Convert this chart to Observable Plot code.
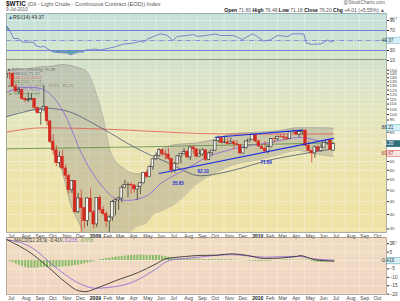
<!DOCTYPE html>
<html><head><meta charset="utf-8">
<script src="https://cdn.jsdelivr.net/npm/d3@7"></script>
<script src="https://cdn.jsdelivr.net/npm/@observablehq/plot@0.6"></script>
<style>
html,body{margin:0;padding:0;background:#fff;}
#wrap{position:relative;width:400px;height:301px;overflow:hidden;font-family:"Liberation Sans",Arial,sans-serif;color:#333;}
.abs{position:absolute;white-space:nowrap;}
#wrap svg{overflow:visible;display:block;}
.leg div{height:4px;line-height:4px;font-size:4.3px;}
</style></head><body><div id="wrap">
<div class="abs" style="left:6px;top:13px;width:380px;height:46px;background:linear-gradient(#c4e1dc,#d7e6cb);"></div>
<div class="abs" style="left:6px;top:59px;width:380px;height:173px;background:linear-gradient(#d3e2cd 0%,#e2e5bd 30%,#ede4ad 65%,#f1e2a5 100%);"></div>
<div class="abs" style="left:6px;top:237px;width:380px;height:57px;background:linear-gradient(#f0ddc3,#f1d5c1);"></div>
<div class="abs" style="left:6px;top:0px;font-size:5.6px;color:#555;"><b style="font-size:6.4px;color:#111">$WTIC</b> (Oil - Light Crude - Continuous Contract (EOD)) Index</div>
<div class="abs" style="left:6px;top:7px;font-size:4.6px;color:#555;">9-Jul-2010</div>
<div class="abs" style="right:15px;top:0px;font-size:4.8px;color:#666;">@StockCharts.com</div>
<div class="abs" style="right:15px;top:6.5px;font-size:5px;color:#555;"><b style="color:#111">Open</b> 71.80 <b style="color:#111">High</b> 76.48 <b style="color:#111">Low</b> 71.18 <b style="color:#111">Close</b> 76.20 <b style="color:#111">Chg</b> +4.01 (+5.55%) ▲</div>
<div class="abs" style="left:8px;top:13.5px;font-size:5px;color:#333;"><span style="color:#369">▲</span>RSI(14) 49.37</div>
<div class="abs leg" style="left:8px;top:68px;color:#444;">
<div><span style="color:#222">■</span> $WTIC (Weekly) 76.20</div>
<div style="color:#4d5875">— MA(50) 75.12</div>
<div style="color:#e2574c">— MA(100) 83.67</div>
<div style="color:#5b8c3c">— MA(200) 77.11</div>
<div style="color:#777">■ BB(20,2.0) 68.05 - 76.63 - 85.21</div>
<div style="color:#8b5fd8">— MA(20) 76.63</div>
<div style="color:#3a8a3a">▲ Volume undef</div>
</div>
<div class="abs" style="left:8px;top:237.5px;font-size:4.8px;color:#333;">— MACD(12,26,9) -0.419, <span style="color:#8b5fd8">0.238</span>, <span style="color:#6aa84f">-0.656</span></div>
<div id="p1" class="abs" style="left:0;top:13px;"></div>
<div id="p2" class="abs" style="left:0;top:59px;"></div>
<div id="p3" class="abs" style="left:0;top:237px;"></div>
</div>
<script>
const weeks = ["2008-06-30","2008-07-07","2008-07-14","2008-07-21","2008-07-28","2008-08-04","2008-08-11","2008-08-18","2008-08-25","2008-09-01","2008-09-08","2008-09-15","2008-09-22","2008-09-29","2008-10-06","2008-10-13","2008-10-20","2008-10-27","2008-11-03","2008-11-10","2008-11-17","2008-11-24","2008-12-01","2008-12-08","2008-12-15","2008-12-22","2008-12-29",
"2009-01-05","2009-01-12","2009-01-19","2009-01-26","2009-02-02","2009-02-09","2009-02-16","2009-02-23","2009-03-02","2009-03-09","2009-03-16","2009-03-23","2009-03-30","2009-04-06","2009-04-13","2009-04-20","2009-04-27","2009-05-04","2009-05-11","2009-05-18","2009-05-25","2009-06-01","2009-06-08","2009-06-15","2009-06-22","2009-06-29","2009-07-06","2009-07-13","2009-07-20","2009-07-27","2009-08-03","2009-08-10","2009-08-17","2009-08-24","2009-08-31","2009-09-07","2009-09-14","2009-09-21","2009-09-28","2009-10-05","2009-10-12","2009-10-19","2009-10-26","2009-11-02","2009-11-09","2009-11-16","2009-11-23","2009-11-30","2009-12-07","2009-12-14","2009-12-21","2009-12-28",
"2010-01-04","2010-01-11","2010-01-18","2010-01-25","2010-02-01","2010-02-08","2010-02-15","2010-02-22","2010-03-01","2010-03-08","2010-03-15","2010-03-22","2010-03-29","2010-04-05","2010-04-12","2010-04-19","2010-04-26","2010-05-03","2010-05-10","2010-05-17","2010-05-24","2010-05-31","2010-06-07","2010-06-14","2010-06-21","2010-06-28","2010-07-05"];
const openP = [140.0,145.3,145.1,128.9,123.3,125.1,115.2,113.8,114.6,115.5,106.2,101.2,104.6,106.9,93.9,77.7,71.9,64.2,67.8,61.0,57.0,49.9,54.4,40.8,46.3,42.4,37.7,
46.3,40.8,36.5,46.5,41.7,40.2,37.5,38.9,44.8,45.5,46.3,51.1,52.4,52.5,52.2,50.3,51.6,53.2,58.6,56.3,61.7,66.3,68.4,72.0,69.6,69.2,66.7,59.9,63.6,68.1,69.5,70.9,67.5,73.9,72.7,68.0,69.3,72.0,66.0,70.0,71.8,78.5,80.5,77.0,77.4,76.4,77.5,76.1,75.5,69.9,73.4,78.1,
79.4,82.8,78.0,74.5,72.9,71.2,74.1,79.8,79.7,81.5,81.2,80.7,80.0,84.9,84.9,83.2,85.1,86.2,75.1,71.6,70.0,74.0,71.5,73.8,77.2,78.9,71.8];
const highP = [145.9,147.3,146.7,132.0,128.0,125.5,117.0,122.0,121.0,116.0,107.0,104.0,130.0,107.0,94.0,83.0,75.0,71.0,72.0,63.0,58.0,54.5,54.5,48.5,50.0,42.5,46.6,
50.5,41.5,46.5,47.5,43.0,41.0,39.5,45.5,46.0,47.0,52.0,54.7,53.5,53.5,52.7,51.5,53.7,58.7,60.0,62.3,66.5,70.3,73.2,72.9,72.0,73.4,66.8,64.5,68.5,69.5,73.2,72.0,74.7,75.0,72.7,72.5,73.0,72.5,71.0,72.0,78.8,82.0,81.0,81.2,80.5,80.5,79.0,79.0,75.9,73.5,78.3,79.6,
83.5,82.9,79.5,75.5,78.0,75.3,80.0,80.5,82.0,83.2,83.0,82.0,85.0,87.1,86.5,85.5,86.5,87.2,77.8,72.0,75.0,75.5,76.0,77.5,79.5,79.0,76.5];
const lowP = [139.1,138.0,128.2,122.9,120.4,113.9,111.3,111.5,113.5,105.2,100.1,90.5,103.0,90.0,76.6,68.6,62.0,61.3,59.9,55.0,48.2,48.5,40.5,40.3,33.9,35.1,35.8,
40.5,35.0,35.5,40.5,39.5,35.5,33.6,37.5,39.5,41.5,44.5,50.5,46.5,48.2,48.6,45.5,48.0,53.0,55.5,56.1,60.0,65.5,67.5,68.0,66.0,65.5,58.3,58.5,63.0,63.5,69.0,66.5,65.5,69.5,67.0,67.5,68.0,65.0,65.5,68.5,71.5,77.0,76.5,76.5,75.5,76.0,72.4,75.0,69.5,69.4,72.8,77.5,
79.2,77.5,74.3,72.4,70.8,69.5,73.8,77.0,78.5,80.8,78.7,78.9,79.5,84.2,82.5,80.8,82.5,74.3,71.5,64.2,67.0,71.0,70.8,73.5,75.5,71.8,71.2];
const closeP = [145.3,145.1,128.9,123.3,125.1,115.2,113.8,114.6,115.5,106.2,101.2,104.6,106.9,93.9,77.7,71.9,64.2,67.8,61.0,57.0,49.9,54.4,40.8,46.3,42.4,37.7,46.3,
40.8,36.5,46.5,41.7,40.2,37.5,38.9,44.8,45.5,46.3,51.1,52.4,52.5,52.2,50.3,51.6,53.2,58.6,56.3,61.7,66.3,68.4,72.0,69.6,69.2,66.7,59.9,63.6,68.1,69.5,70.9,67.5,73.9,72.7,68.0,69.3,72.0,66.0,70.0,71.8,78.5,80.5,77.0,77.4,76.4,77.5,76.1,75.5,69.9,73.4,78.1,79.4,
82.8,78.0,74.5,72.9,71.2,74.1,79.8,79.7,81.5,81.2,80.7,80.0,84.9,84.9,83.2,85.1,86.2,75.1,71.6,70.0,74.0,71.5,73.8,77.2,78.9,72.2,76.2];
const macdHist = [0.3,-0.5,-1.2,-2,-2.8,-3.5,-4,-4.5,-4.6,-4.5,-4.3,-4,-4,-4.1,-4,-3.9,-4,-4,-3.8,-3.6,-3.5,-3.2,-3,-2.7,-2.3,-2,-1.5,-1,-0.5,0,0.5,0.8,1.2,1.5,1.8,2.1,2.3,2.5,2.7,2.9,3,3.1,3.2,3.2,3.1,3,3,3,3.1,3,2.6,2.3,2,1.6,1.2,1.1,1,1,0.9,0.9,0.8,0.8,0.7,0.6,0.5,0.6,0.6,0.5,0.6,0.6,0.5,0.4,0.5,0.3,0.2,0.1,-0.1,-0.2,-0.3,-0.4,-0.5,-0.6,-0.6,-0.5,-0.5,-0.3,-0.1,0.1,0.2,0.3,0.3,0.3,0.3,0.2,0.2,0.3,0.4,0.3,-0.5,-0.9,-1.1,-1.1,-1,-0.8,-0.7,-0.66];

const rsiDates = ["2008-06-30","2008-07-09","2008-07-16","2008-07-27","2008-08-05","2008-08-30","2008-09-03","2008-09-14","2008-09-21","2008-10-07","2008-10-14","2008-11-14","2008-11-21","2008-12-09","2008-12-20","2008-12-25","2009-01-05","2009-01-12","2009-01-27","2009-02-26","2009-03-20","2009-04-11","2009-04-27","2009-05-04","2009-05-13","2009-05-26","2009-06-11","2009-06-27","2009-07-08","2009-07-19","2009-08-11","2009-08-24","2009-09-02","2009-09-20","2009-10-13","2009-10-24","2009-11-22","2009-12-12","2010-01-04","2010-01-11","2010-01-29","2010-02-13","2010-03-01","2010-03-24","2010-04-04","2010-04-29","2010-05-05","2010-05-19","2010-05-26","2010-06-06","2010-06-22","2010-06-28","2010-07-05"];
const rsiVals = [80,66.7,54,54,46.7,46.7,40,36.7,38.7,30,26.7,24.7,21.3,26.7,26.7,31.3,31.3,33,31,36.7,43,44.7,48.7,46.7,53,58,63.3,60,50,58,60,62,58,60,63,60,60,52,63.3,60,48.7,51.3,60,58,63.3,63.3,44.7,42,43,43,51.3,46.7,49.37];
const rsiTicks = [10,30,70,90];

const macdDates = ["2008-06-30","2008-08-26","2008-10-03","2008-11-10","2008-12-09","2008-12-25","2009-01-16","2009-03-02","2009-04-23","2009-06-01","2009-06-23","2009-08-06","2009-09-04","2009-10-18","2009-11-16","2009-12-24","2010-01-31","2010-04-13","2010-04-20","2010-05-22","2010-07-05"];
const macdVals = [12.5,4,-4.2,-13,-18,-18.5,-16.7,-12,-7,-2,1,2.4,3,3.2,4,3,1.2,2.4,3,0.6,-0.419];
const signalDates = ["2008-06-30","2008-08-26","2008-10-18","2008-12-14","2009-01-16","2009-02-14","2009-04-08","2009-06-01","2009-06-30","2009-08-06","2009-09-04","2009-11-16","2010-01-31","2010-04-13","2010-05-22","2010-07-05"];
const signalVals = [12.5,7.7,-4,-14,-16.5,-16,-13,-5,0,1.2,2,3.5,2,2.5,1,0.238];
const macdTicks = [-20,-15,-10,-5,5,10];

const ma20Dates = ["2008-06-30","2008-08-04","2008-09-01","2008-09-30","2008-11-03","2008-12-20","2009-02-03","2009-03-06","2009-03-29","2009-05-13","2009-06-11","2009-07-10","2009-08-11","2009-09-09","2009-11-22","2010-02-07","2010-04-22","2010-06-22","2010-07-05"];
const ma20Vals = [122,128,128,123,104,67.5,51,46,45.5,47.6,53,57,61,65.6,73,77,81,77,76.63];
const ma50Dates = ["2008-06-30","2008-08-15","2008-09-20","2008-11-05","2009-01-31","2009-04-14","2009-06-30","2009-09-09","2009-11-22","2010-02-07","2010-04-22","2010-07-05"];
const ma50Vals = [98,103,106,104,88,74,64,57,60,65.6,69.5,73];
const ma100Dates = ["2008-06-30","2008-09-20","2009-02-01","2009-06-01","2009-09-09","2010-01-01","2010-07-05"];
const ma100Vals = [85,88.5,87.5,85.5,84,83.5,83.67];
const ma200Dates = ["2008-06-30","2009-06-01","2010-07-05"];
const ma200Vals = [73,74.5,77.11];
const bbDates = ["2008-06-30","2008-08-15","2008-09-20","2008-10-15","2008-11-01","2008-11-25","2008-12-10","2008-12-28","2009-01-15","2009-02-01","2009-02-20","2009-03-20","2009-04-20","2009-05-10","2009-05-25","2009-06-15","2009-07-20","2009-09-01","2009-10-15","2009-11-20","2010-01-15","2010-03-01","2010-04-15","2010-05-20","2010-07-05"];
const bbUpper = [150,152,155,156,158,156,153,148,125,99,70,61,58,58.5,66,73,76,77,80,84,85,86,88.5,88.5,88.2];
const bbLower = [98,104,104,72,60,42,37,32,29,28,29,32,36,37,40,41.5,45,53,59,63,66,69,72,70,68];

const trendDatesA = ["2009-10-12","2010-04-26"], trendValsA = [81.2,86.6];
const trendDatesB = ["2009-06-08","2010-07-05"], trendValsB = [58.2,80.3];
const trendLabelDates = ["2009-07-08","2009-09-02","2010-01-22"];
const trendLabelVals = [55.65,62.1,67.4];
const trendLabelText = ["55.65","62.10","71.69"];

const priceGrid = [35,40,45,50,55,60,65,70,75,80,85,90,95,100,105,110,115,120,125,130,135,140,145,150];
const priceTickLabels = [35,40,45,50,55,60,65,85,95,100,105,110,115,120,125,130,135,140,145,150];
const monthDates = ["2008-07-01","2008-08-01","2008-09-01","2008-10-01","2008-11-01","2008-12-01","2009-02-01","2009-03-01","2009-04-01","2009-05-01","2009-06-01","2009-07-01","2009-08-01","2009-09-01","2009-10-01","2009-11-01","2009-12-01","2010-02-01","2010-03-01","2010-04-01","2010-05-01","2010-06-01","2010-07-01","2010-08-01","2010-09-01","2010-10-01"];
const monthNames = ["Jul","Aug","Sep","Oct","Nov","Dec","Feb","Mar","Apr","May","Jun","Jul","Aug","Sep","Oct","Nov","Dec","Feb","Mar","Apr","May","Jun","Jul","Aug","Sep","Oct"];
const yearDates = ["2009-01-01","2010-01-01"];
const yearNames = ["2009","2010"];

const priceBoxVals = [88.21,76.20,69.67], priceBoxText = ["88.21","76.20","69.67"];

// ---- build ----
const P = d3.utcParse("%Y-%m-%d");
const xDomain = [P("2008-06-30"), P("2010-11-01")];
const candles = weeks.map((w,i)=>({date:P(w), o:openP[i], h:highP[i], l:lowP[i], c:closeP[i], down: i>0 ? closeP[i] < closeP[i-1] : false}));
const series = (ds, vs) => ds.map((d,i)=>({date:P(d), v:vs[i]}));
const rsi = series(rsiDates, rsiVals);
const macd = series(macdDates, macdVals), sig = series(signalDates, signalVals);
const hist = weeks.map((w,i)=>({date:P(w), v:macdHist[i]}));
const ma20 = series(ma20Dates, ma20Vals), ma50 = series(ma50Dates, ma50Vals), ma100 = series(ma100Dates, ma100Vals), ma200 = series(ma200Dates, ma200Vals);
const bb = bbDates.map((d,i)=>({date:P(d), up:bbUpper[i], lo:bbLower[i]}));
const trA = series(trendDatesA, trendValsA), trB = series(trendDatesB, trendValsB);
const trL = trendLabelDates.map((d,i)=>({date:P(d), v:trendLabelVals[i], t:trendLabelText[i]}));
const mDates = monthDates.map(P), yDates = yearDates.map(P);
const mMap = new Map(mDates.map((d,i)=>[+d, monthNames[i]]));
const yMap = new Map(yDates.map((d,i)=>[+d, yearNames[i]]));
const RED = "#d42a20", BLK = "#2a2a2a";
const font = {fontFamily:"Liberation Sans, Arial, sans-serif", background:"transparent", overflow:"visible"};

function boxes(vals, texts, styles) {
  return (index, scales, values, dims) => {
    const g = d3.create("svg:g");
    const x0 = dims.width - dims.marginRight + 0.5;
    vals.forEach((v,i) => {
      const y = scales.y(v), s = styles[i];
      g.append("rect").attr("x", x0).attr("y", y-3.1).attr("width", 14).attr("height", 6.2)
        .attr("fill", s.fill).attr("stroke", s.stroke).attr("stroke-width", 0.6);
      g.append("text").attr("x", x0+1).attr("y", y+1.7).attr("font-size", 4.8)
        .attr("font-family","Liberation Sans, Arial, sans-serif").attr("fill", s.color).text(texts[i]);
    });
    return g.node();
  };
}
const xAxes = () => [
  Plot.axisX({ticks: mDates, tickFormat: d => mMap.get(+d), tickSize: 0, tickPadding: 1.5, fontSize: 5, textAnchor: "start", dx: 1, fill: "#444"}),
  Plot.axisX({ticks: yDates, tickFormat: d => yMap.get(+d), tickSize: 0, tickPadding: 1.5, fontSize: 5, textAnchor: "start", dx: 1, fill: "#111", fontWeight: "bold"})
];
const vGrid = () => Plot.ruleX(mDates.concat(yDates), {stroke: "#ffffff", strokeOpacity: 0.6, strokeWidth: 0.6});

// RSI panel
const rsiPlot = Plot.plot({
  width: 400, height: 48, marginLeft: 6, marginRight: 14, marginTop: 0, marginBottom: 2,
  x: {type: "utc", domain: xDomain, axis: null},
  y: {domain: [12, 104], axis: null},
  style: font,
  marks: [
    vGrid(),
    Plot.ruleY([90], {stroke: "#fff", strokeOpacity: 0.6, strokeWidth: 0.6}),
    Plot.areaY(rsi, {x: "date", y1: 30, y2: d => Math.min(d.v, 30), fill: "#3f9e9a", fillOpacity: 0.85}),
    Plot.areaY(rsi, {x: "date", y1: 70, y2: d => Math.max(d.v, 70), fill: "#3f9e9a", fillOpacity: 0.85}),
    Plot.ruleY([70, 30], {stroke: "#7480d8", strokeWidth: 1}),
    Plot.ruleY([50], {stroke: "#7480d8", strokeWidth: 0.8, strokeDasharray: "5,1.5,1,1.5"}),
    Plot.line(rsi, {x: "date", y: "v", stroke: "#6668c8", strokeWidth: 0.8}),
    Plot.axisY({anchor: "right", ticks: rsiTicks, tickSize: 2, tickPadding: 1, fontSize: 5, fill: "#444"}),
    Plot.frame({stroke: "#8a9a9a", strokeWidth: 0.7}),
    boxes([49.37], ["49.37"], [{fill: "#d8eef2", stroke: "#7ab8c8", color: "#245"}])
  ]
});
document.getElementById("p1").append(rsiPlot);

// Price panel
const up = candles.filter(d => d.c >= d.o), dn = candles.filter(d => d.c < d.o);
const pricePlot = Plot.plot({
  width: 400, height: 180, marginLeft: 6, marginRight: 14, marginTop: 0, marginBottom: 7,
  x: {type: "utc", domain: xDomain, axis: null},
  y: {type: "log", domain: [33.9, 165.5], axis: null},
  style: font,
  marks: [
    vGrid(),
    Plot.ruleY(priceGrid, {stroke: "#fff", strokeOpacity: 0.55, strokeWidth: 0.6}),
    Plot.areaY(bb, {x: "date", y1: "lo", y2: "up", fill: "#8a8a86", fillOpacity: 0.32, curve: "monotone-x", clip: true}),
    Plot.line(bb, {x: "date", y: "up", stroke: "#9a9a94", strokeWidth: 0.6, curve: "monotone-x", clip: true}),
    Plot.line(bb, {x: "date", y: "lo", stroke: "#9a9a94", strokeWidth: 0.6, curve: "monotone-x", clip: true}),
    Plot.line(ma200, {x: "date", y: "v", stroke: "#5b8c3c", strokeWidth: 0.8, curve: "monotone-x"}),
    Plot.line(ma100, {x: "date", y: "v", stroke: "#e2574c", strokeWidth: 0.8, curve: "monotone-x"}),
    Plot.line(ma50, {x: "date", y: "v", stroke: "#4d5875", strokeWidth: 0.8, curve: "monotone-x", clip: true}),
    Plot.line(ma20, {x: "date", y: "v", stroke: "#8b5fd8", strokeWidth: 0.8, curve: "monotone-x", clip: true}),
    Plot.ruleX(candles, {x: "date", y1: "l", y2: "h", stroke: d => d.down ? RED : BLK, strokeWidth: 0.7, clip: true}),
    Plot.rect(up, {x1: d => d3.utcDay.offset(d.date, -3), x2: d => d3.utcDay.offset(d.date, 3), y1: "o", y2: "c", fill: "#f4f4f0", stroke: d => d.down ? RED : BLK, strokeWidth: 0.6, clip: true}),
    Plot.rect(dn, {x1: d => d3.utcDay.offset(d.date, -3), x2: d => d3.utcDay.offset(d.date, 3), y1: "o", y2: "c", fill: d => d.down ? RED : BLK, stroke: d => d.down ? RED : BLK, strokeWidth: 0.5, clip: true}),
    Plot.line(trA, {x: "date", y: "v", stroke: "#1b2fe0", strokeWidth: 1.1}),
    Plot.line(trB, {x: "date", y: "v", stroke: "#1b2fe0", strokeWidth: 1.1}),
    Plot.text(trL, {x: "date", y: "v", text: "t", fill: "#1b2fe0", fontSize: 4.5, textAnchor: "start", dy: 5, fontWeight: "bold"}),
    Plot.axisY({anchor: "right", ticks: priceTickLabels, tickSize: 2, tickPadding: 1, fontSize: 4.4, fill: "#444"}),
    ...xAxes(),
    Plot.frame({stroke: "#8a8a7a", strokeWidth: 0.7}),
    boxes(priceBoxVals, priceBoxText, [
      {fill: "#d6f0f4", stroke: "#6cc0d0", color: "#235"},
      {fill: "#2e6e78", stroke: "#2e6e78", color: "#fff"},
      {fill: "#fbe6e4", stroke: "#e2574c", color: "#a33"}
    ])
  ]
});
document.getElementById("p2").append(pricePlot);

// MACD panel
const macdPlot = Plot.plot({
  width: 400, height: 64, marginLeft: 6, marginRight: 14, marginTop: 0, marginBottom: 7,
  x: {type: "utc", domain: xDomain, axis: null},
  y: {domain: [-20.2, 13.7], axis: null},
  style: font,
  marks: [
    vGrid(),
    Plot.ruleY(macdTicks.concat([0]), {stroke: "#fff", strokeOpacity: 0.55, strokeWidth: 0.6}),
    Plot.ruleX(hist, {x: "date", y1: 0, y2: "v", stroke: "#86bd66", strokeWidth: 2}),
    Plot.line(sig, {x: "date", y: "v", stroke: "#8b5fd8", strokeWidth: 0.8, curve: "monotone-x"}),
    Plot.line(macd, {x: "date", y: "v", stroke: "#222", strokeWidth: 0.8, curve: "monotone-x"}),
    Plot.axisY({anchor: "right", ticks: macdTicks, tickSize: 2, tickPadding: 1, fontSize: 4.8, fill: "#444"}),
    ...xAxes(),
    Plot.frame({stroke: "#9a8a7a", strokeWidth: 0.7}),
    boxes([-0.419], ["-0.419"], [{fill: "#d8eef2", stroke: "#5aa8b8", color: "#245"}])
  ]
});
document.getElementById("p3").append(macdPlot);
</script></body></html>
